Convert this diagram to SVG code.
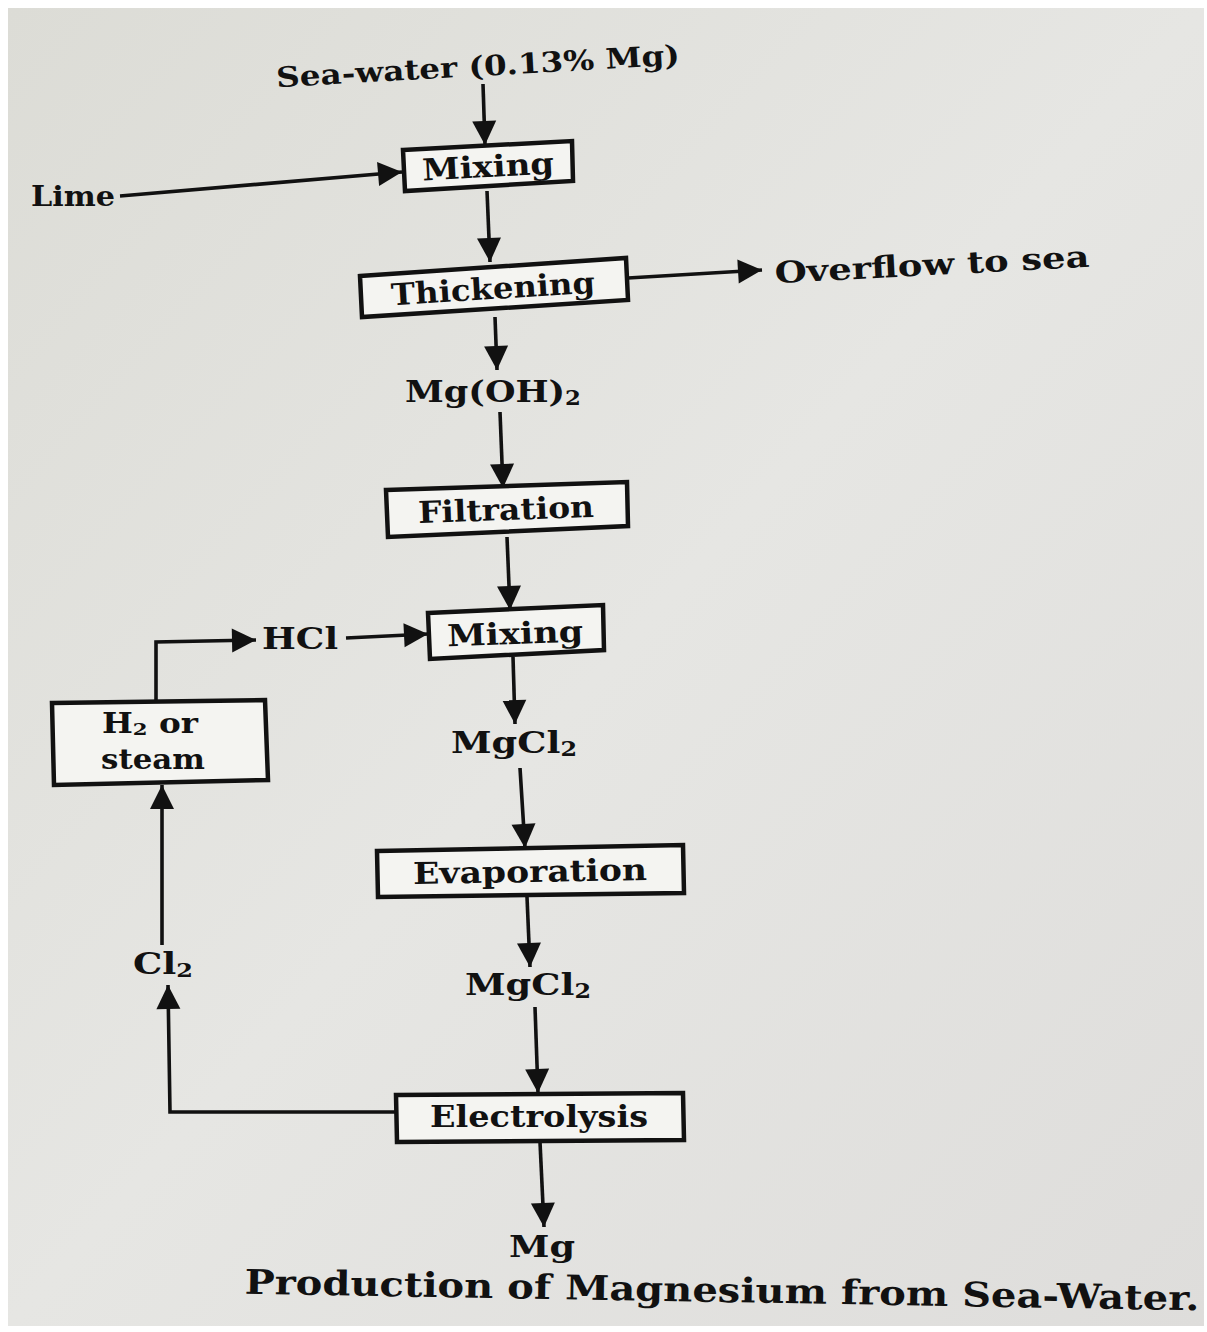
<svg xmlns="http://www.w3.org/2000/svg" width="1207" height="1332" viewBox="0 0 1207 1332">
<defs>
<linearGradient id="page" x1="0" y1="0" x2="1" y2="1">
<stop offset="0" stop-color="#dcdcd6"/>
<stop offset="0.5" stop-color="#e6e6e3"/>
<stop offset="1" stop-color="#dedddb"/>
</linearGradient>
<marker id="ah" markerUnits="userSpaceOnUse" markerWidth="30" markerHeight="30" viewBox="0 0 30 30" refX="27" refY="15" orient="auto">
<path d="M3,3 L27,15 L3,27 Z" fill="#111"/>
</marker>
</defs>
<style>
.box{fill:#f4f4f1;stroke:#111;stroke-width:4.5;stroke-linejoin:miter}
.ln{fill:none;stroke:#111;stroke-width:3.6}
.arr{fill:none;stroke:#111;stroke-width:3.6;marker-end:url(#ah)}
.t{font-family:"DejaVu Serif","Liberation Serif",serif;font-weight:bold;fill:#111}
.sub{font-size:65%}
</style>
<rect x="0" y="0" width="1207" height="1332" fill="#ffffff"/>
<rect x="8" y="8" width="1196" height="1318" fill="url(#page)"/>

<g id="connectors">
<path class="arr" d="M483,84 L485,145"/>
<path class="arr" d="M120,196 L402,172"/>
<path class="arr" d="M487,191 L490,262"/>
<path class="arr" d="M628,278 L762,270"/>
<path class="arr" d="M495,317 L497,370"/>
<path class="arr" d="M500,412 L503,488"/>
<path class="arr" d="M507,537 L510,610"/>
<path class="arr" d="M346,638 L428,634"/>
<path class="arr" d="M156,700 L156,642 L256,640"/>
<path class="arr" d="M513,657 L515,724"/>
<path class="arr" d="M520,768 L525,848"/>
<path class="arr" d="M527,897 L530,967"/>
<path class="arr" d="M535,1007 L538,1093"/>
<path class="arr" d="M396,1112 L170,1112 L168,985"/>
<path class="arr" d="M162,945 L162,785"/>
<path class="arr" d="M540,1142 L544,1227"/>
</g>

<g id="seawater">
<text class="t" x="478" y="76" font-size="28" text-anchor="middle" textLength="404" lengthAdjust="spacingAndGlyphs" transform="rotate(-3.2 478 67)">Sea-water (0.13% Mg)</text>
</g>
<g id="lime">
<text class="t" x="31" y="206" font-size="27" textLength="84" lengthAdjust="spacingAndGlyphs">Lime</text>
</g>
<g id="mixing1">
<polygon class="box" points="403,150 572,141 573,181 405,191"/>
<text class="t" x="488" y="177" font-size="30" text-anchor="middle" textLength="132" lengthAdjust="spacingAndGlyphs" transform="rotate(-3 488 166)">Mixing</text>
</g>
<g id="thickening">
<polygon class="box" points="360,276 626,258 628,300 362,317"/>
<text class="t" x="493" y="299" font-size="30" text-anchor="middle" textLength="204" lengthAdjust="spacingAndGlyphs" transform="rotate(-3.5 493 288)">Thickening</text>
</g>
<g id="overflow">
<text class="t" x="932" y="275" font-size="30" text-anchor="middle" textLength="315" lengthAdjust="spacingAndGlyphs" transform="rotate(-3 932 264)">Overflow to sea</text>
</g>
<g id="mgoh2">
<text class="t" x="493" y="402" font-size="30" text-anchor="middle" textLength="176" lengthAdjust="spacingAndGlyphs">Mg(OH)<tspan class="sub" dy="3">2</tspan></text>
</g>
<g id="filtration">
<polygon class="box" points="386,490 627,482 628,526 388,537"/>
<text class="t" x="506" y="520" font-size="30" text-anchor="middle" textLength="176" lengthAdjust="spacingAndGlyphs" transform="rotate(-2 506 510)">Filtration</text>
</g>
<g id="mixing2">
<polygon class="box" points="428,613 603,605 604,650 430,659"/>
<text class="t" x="515" y="644" font-size="30" text-anchor="middle" textLength="136" lengthAdjust="spacingAndGlyphs" transform="rotate(-2 515 633)">Mixing</text>
</g>
<g id="hcl">
<text class="t" x="300" y="649" font-size="29" text-anchor="middle" textLength="76" lengthAdjust="spacingAndGlyphs">HCl</text>
</g>
<g id="h2steam">
<polygon class="box" points="52,703 265,700 268,780 54,785"/>
<text class="t" x="150" y="733" font-size="27" text-anchor="middle" textLength="96" lengthAdjust="spacingAndGlyphs">H<tspan class="sub" dy="2">2</tspan><tspan dy="-2"> or</tspan></text>
<text class="t" x="153" y="769" font-size="27" text-anchor="middle" textLength="104" lengthAdjust="spacingAndGlyphs">steam</text>
</g>
<g id="mgcl2a">
<text class="t" x="514" y="753" font-size="30" text-anchor="middle" textLength="126" lengthAdjust="spacingAndGlyphs">MgCl<tspan class="sub" dy="3">2</tspan></text>
</g>
<g id="evaporation">
<polygon class="box" points="377,851 683,845 684,893 378,897"/>
<text class="t" x="530" y="882" font-size="30" text-anchor="middle" textLength="234" lengthAdjust="spacingAndGlyphs" transform="rotate(-1 530 872)">Evaporation</text>
</g>
<g id="mgcl2b">
<text class="t" x="528" y="995" font-size="30" text-anchor="middle" textLength="126" lengthAdjust="spacingAndGlyphs">MgCl<tspan class="sub" dy="3">2</tspan></text>
</g>
<g id="cl2">
<text class="t" x="163" y="974" font-size="29" text-anchor="middle" textLength="60" lengthAdjust="spacingAndGlyphs">Cl<tspan class="sub" dy="3">2</tspan></text>
</g>
<g id="electrolysis">
<polygon class="box" points="396,1095 683,1093 684,1140 397,1142"/>
<text class="t" x="539" y="1127" font-size="30" text-anchor="middle" textLength="218" lengthAdjust="spacingAndGlyphs">Electrolysis</text>
</g>
<g id="mg">
<text class="t" x="542" y="1257" font-size="30" text-anchor="middle" textLength="66" lengthAdjust="spacingAndGlyphs">Mg</text>
</g>
<g id="caption">
<text class="t" x="722" y="1302" font-size="34" text-anchor="middle" textLength="955" lengthAdjust="spacingAndGlyphs" transform="rotate(1 722 1292)">Production of Magnesium from Sea-Water.</text>
</g>
</svg>
